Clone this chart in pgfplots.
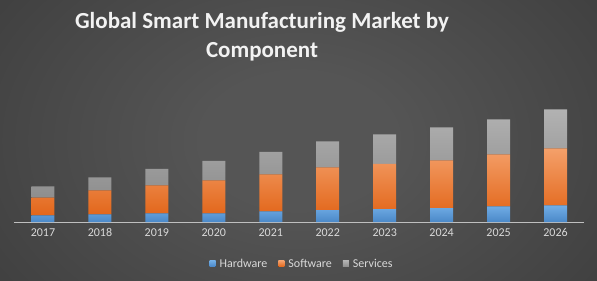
\documentclass[border=0pt]{standalone}
\usepackage{pgfplots}
\pgfplotsset{compat=1.18}
\usepackage{fontspec}
\setmainfont{Carlito}
\definecolor{bgin}{HTML}{555555}
\definecolor{bgout}{HTML}{262626}
\definecolor{txt}{HTML}{D9D9D9}
\definecolor{hwT}{HTML}{72AEE6}
\definecolor{hwB}{HTML}{4A88C8}
\definecolor{swT}{HTML}{F4A06A}
\definecolor{swB}{HTML}{E2661A}
\definecolor{svT}{HTML}{B2B2B2}
\definecolor{svB}{HTML}{8E8E8E}
\pgfdeclareradialshading{bgshade}{\pgfpoint{0bp}{0bp}}{color(0bp)=(bgin); color(6bp)=(bgin); color(44bp)=(bgout); color(50bp)=(bgout)}
\begin{document}
\begin{tikzpicture}
\useasboundingbox (0,0) rectangle (597pt,281pt);
\begin{scope}
\clip (0,0) rectangle (597pt,281pt);
\fill[bgout] (0,0) rectangle (597pt,281pt);
\shade[shading=bgshade] (298.5pt,140.5pt) ellipse (400pt and 280pt);
\end{scope}
\node[anchor=base, text=white!95!black, font=\fontsize{23}{27}\selectfont\bfseries] at (262pt,252.7pt) {Global Smart Manufacturing Market by};
\node[anchor=base, text=white!95!black, font=\fontsize{23}{27}\selectfont\bfseries] at (262pt,223.7pt) {Component};
\begin{axis}[
  at={(14.5pt,59pt)}, anchor=south west,
  scale only axis, width=569.5pt, height=120pt,
  xmin=-0.5, xmax=9.5, ymin=0, ymax=120,
  ybar stacked, bar width=23pt,
  axis x line=bottom, axis y line=none,
  x axis line style={-, draw=white!75!black, line width=0.8pt},
  xtick=data, major tick length=0pt,
  xticklabels={2017,2018,2019,2020,2021,2022,2023,2024,2025,2026},
  xticklabel style={text=txt, font=\fontsize{12}{14}\selectfont, yshift=-3pt},
  legend columns=3,
  legend style={at={(0.505,-0.3475)}, anchor=center, draw=none, fill=none, text=txt, font=\fontsize{12}{14}\selectfont, /tikz/every even column/.append style={column sep=9pt}, /tikz/every odd column/.append style={column sep=2pt}},
  legend image code/.code={\fill[#1] (0pt,-3pt) rectangle (6pt,3pt);},
  clip=false,
]
\addplot[draw=none, top color=hwT, bottom color=hwB] coordinates {(0,6.7) (1,7.7) (2,8.7) (3,8.7) (4,10.7) (5,12) (6,13) (7,14) (8,15.7) (9,16.7)};
\addplot[draw=none, top color=swT, bottom color=swB] coordinates {(0,17.7) (1,24) (2,28) (3,33) (4,37) (5,42.7) (6,45) (7,47.7) (8,52) (9,57)};
\addplot[draw=none, top color=svT, bottom color=svB] coordinates {(0,11.3) (1,13) (2,16.3) (3,19.3) (4,22.3) (5,26) (6,29.7) (7,33) (8,35) (9,39)};
\legend{Hardware,Software,Services}
\end{axis}
\end{tikzpicture}
\end{document}
